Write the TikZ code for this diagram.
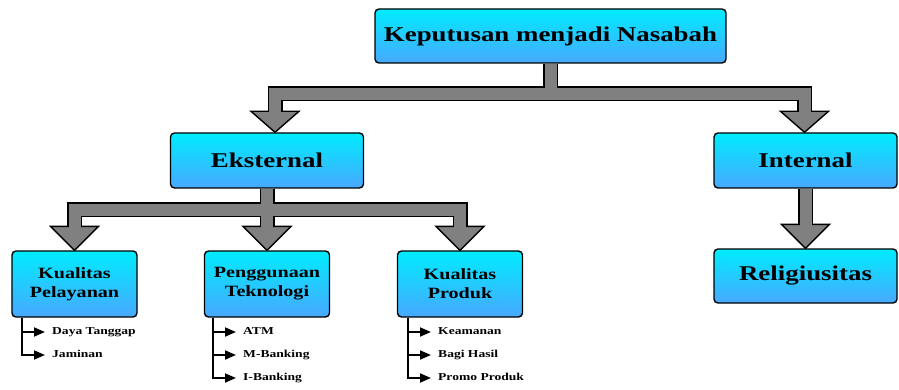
\documentclass[tikz,border=0pt]{standalone}
\usepackage{fontspec}
\setmainfont{Liberation Serif}[FakeStretch=1.28]
\usetikzlibrary{arrows.meta}
\definecolor{atas}{RGB}{0,236,255}
\definecolor{bawah}{RGB}{72,168,255}
\definecolor{panah}{RGB}{128,128,128}
\tikzset{
    kotak/.style={draw, line width=1.4pt, rounded corners=4pt, top color=atas, bottom color=bawah, align=center, inner sep=0pt},
    besar/.style={kotak, font=\bfseries\fontsize{21}{24}\selectfont},
    kecil/.style={kotak, minimum width=125pt, minimum height=66pt, font=\bfseries\fontsize{15.7}{19}\selectfont},
    item/.style={anchor=west, inner sep=0pt, text height=7pt, text depth=2pt, font=\bfseries\fontsize{10.6}{12}\selectfont},
    luar/.style={draw=black, line width=15pt, line join=miter},
    dalam/.style={draw=panah, line width=12pt, line join=miter},
    kepala/.style={fill=panah, draw=black, line width=1.4pt, line join=miter},
    cabang/.style={draw, line width=1.8pt, -{Triangle[length=11pt,width=9pt]}, shorten >=7pt},
}

\begin{document}
\begin{tikzpicture}[x=1pt, y=-1pt]
    \useasboundingbox (0,0) rectangle (899,390);

    \path (550.5,36) coordinate (p0) (267,160.5) coordinate (e0) (805.5,160.5) coordinate (i0)
          (805.5,276) coordinate (r0) (74.5,284) coordinate (q1) (267,284) coordinate (q2) (460,284) coordinate (q3);

    % kotak dulu sebagai acuan, digambar ulang di atas panah
    \path[besar, minimum width=351pt, minimum height=54pt] node (puncak) at (p0) {\phantom{X}};
    \path[besar, minimum width=193pt, minimum height=55pt] node (eks) at (e0) {\phantom{X}};
    \path[besar, minimum width=183pt, minimum height=55pt] node (int) at (i0) {\phantom{X}};
    \path[besar, minimum width=183pt, minimum height=54pt] node (rel) at (r0) {\phantom{X}};
    \path[kecil] node (kpl) at (q1) {\phantom{X}};
    \path[kecil] node (tek) at (q2) {\phantom{X}};
    \path[kecil] node (prd) at (q3) {\phantom{X}};

    \path (puncak.south) ++(0,30) coordinate (t1)
          ([xshift=8pt]eks.north) ++(0,-21) coordinate (k1)
          ([xshift=-1pt]int.north) ++(0,-21) coordinate (k2)
          (eks.south) ++(0,21) coordinate (t2)
          (kpl.north) ++(0,-24) coordinate (h1)
          (tek.north) ++(0,-24) coordinate (h2)
          (prd.north) ++(0,-24) coordinate (h3)
          (rel.north) ++(0,-24) coordinate (h4);

    \draw[luar] (puncak.south) -- (t1) (k1) |- (t1) -| (k2);
    \draw[luar] (eks.south) -- (t2) (h1) |- (t2) -| (h3) (h2) -- (h2 |- t2);
    \draw[luar] (int.south) -- (h4);

    \foreach \k/\b in {k1/eks, k2/int, h1/kpl, h2/tek, h3/prd, h4/rel}
        \draw[kepala] (\k) +(-24,0) -- +(24,0) -- (\k |- \b.north) -- cycle;

    \draw[dalam] (puncak.south) -- (t1) ([yshift=-2pt]k1) |- (t1) -| ([yshift=-2pt]k2);
    \draw[dalam] (eks.south) -- (t2) ([yshift=-2pt]h1) |- (t2) -| ([yshift=-2pt]h3) ([yshift=-2pt]h2) -- (h2 |- t2);
    \draw[dalam] (int.south) -- ([yshift=-2pt]h4);

    \node[besar, minimum width=351pt, minimum height=54pt] (puncak) at (p0) {Keputusan menjadi Nasabah};
    \node[besar, minimum width=193pt, minimum height=55pt] (eks) at (e0) {Eksternal};
    \node[besar, minimum width=183pt, minimum height=55pt] (int) at (i0) {Internal};
    \node[besar, minimum width=183pt, minimum height=54pt] (rel) at (r0) {Religiusitas};
    \node[kecil] (kpl) at (q1) {Kualitas\\Pelayanan};
    \node[kecil] (tek) at (q2) {Penggunaan\\Teknologi};
    \node[kecil] (prd) at (q3) {Kualitas\\Produk};

    \path (kpl.south west) ++(11,0) coordinate (v1)
          (tek.south west) ++(9,0) coordinate (v2)
          (prd.south west) ++(11,0) coordinate (v3);

    \node[item] (kpl1) at (52,332) {Daya Tanggap};
    \node[item] (kpl2) at (52,355) {Jaminan};
    \node[item] (tek1) at (243,332) {ATM};
    \node[item] (tek2) at (243,355) {M-Banking};
    \node[item] (tek3) at (243,378) {I-Banking};
    \node[item] (prd1) at (438,332) {Keamanan};
    \node[item] (prd2) at (438,355) {Bagi Hasil};
    \node[item] (prd3) at (438,378) {Promo Produk};

    \foreach \v/\n in {v1/kpl1, v1/kpl2, v2/tek1, v2/tek2, v2/tek3, v3/prd1, v3/prd2, v3/prd3}
        \draw[cabang] (\v) |- (\n.west);
\end{tikzpicture}
\end{document}
